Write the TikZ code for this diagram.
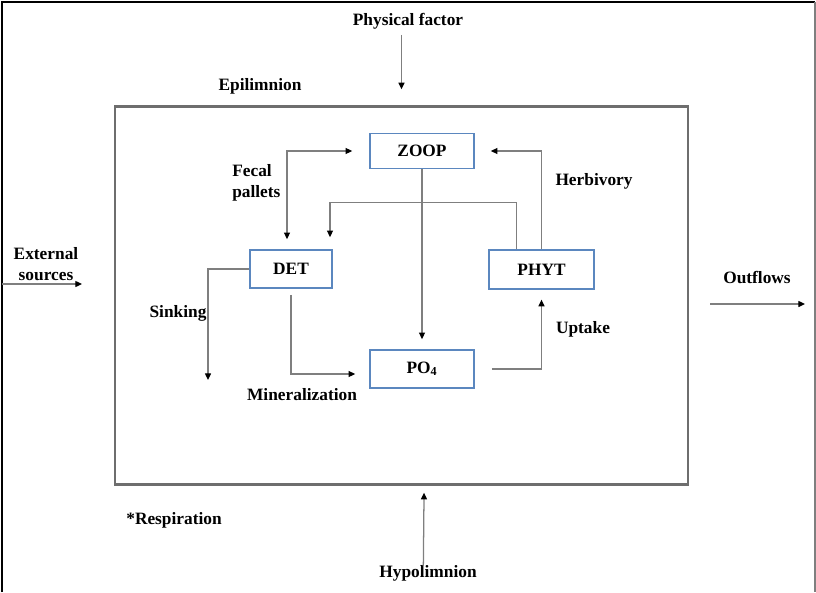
\documentclass[tikz,border=0pt]{standalone}
\usepackage{fontspec}
\setmainfont{Liberation Serif}
\usetikzlibrary{arrows.meta,positioning}

\definecolor{boxblue}{HTML}{5B87BF}
\definecolor{flowgray}{HTML}{7F7F7F}
\definecolor{lakegray}{HTML}{6E6E6E}

\tikzset{
	>={Triangle[length=5pt,width=4.5pt,color=black]},
	pool/.style={draw=boxblue, line width=1.2pt, minimum width=78pt, minimum height=28pt, font=\bfseries\fontsize{13}{15}\selectfont},
	flow/.style={draw=flowgray, line width=0.95pt, ->},
	lbl/.style={font=\bfseries\fontsize{13}{15.5}\selectfont, align=center, inner sep=0pt},
}

\begin{document}
\begin{tikzpicture}[x=0.75pt, y=-0.75pt]
	\useasboundingbox (0,0) rectangle (816,592);

	% frame and lake
	\draw[line width=1.5pt] (2,592) -- (2,2.5) -- (814.5,2.5);
	\draw[flowgray, line width=1.5pt] (814.5,2.5) -- (814.5,592);
	\node[draw=lakegray, line width=1.8pt, minimum width=429.75pt, minimum height=283.5pt] (lake) at (401.5,295.5) {};

	% pools
	\node[pool, minimum width=78pt, minimum height=26pt] (zoop) at (422,151) {ZOOP};
	\node[pool, minimum width=61.5pt, minimum height=28.5pt] (det) at (291,269) {DET};
	\node[pool, minimum width=79pt, minimum height=29pt] (phyt) at (541.5,269.5) {PHYT};
	\node[pool, minimum width=78pt, minimum height=28.5pt] (po4) at (422,369) {PO\textsubscript{4}};

	% labels
	\node[lbl] (phys) at (408,21) {Physical factor};
	\node[lbl] (epi) at (260,86) {Epilimnion};
	\node[lbl, align=left, anchor=west] (fecal) at (232,183) {Fecal\\pallets};
	\node[lbl] (herb) at (594,181) {Herbivory};
	\node[lbl] (sink) at (178,313) {Sinking};
	\node[lbl] (miner) at (302,395) {Mineralization};
	\node[lbl] (uptake) at (583,329) {Uptake};
	\node[lbl] (ext) at (46,264) {External\\sources};
	\node[lbl] (out) at (757,277) {Outflows};
	\node[lbl] (hypo) at (428,573) {Hypolimnion};
	\node[lbl] (resp) at (174,520) {*Respiration};

	% free ends
	\coordinate (physin) at (401.5,35);
	\coordinate (extin) at (2,284);
	\coordinate (extend) at (82,284);
	\coordinate (outin) at (710,304);
	\coordinate (outend) at (805,304);
	\coordinate (sinkend) at (208,380);

	% flows
	\draw[flow] (physin) -- ([yshift=12pt]lake.north);
	\draw[flow] (extin) -- (extend);
	\draw[flow] (outin) -- (outend);
	\draw[flow] ([xshift=-3.5pt,yshift=-1pt]hypo.north) -- ([xshift=16.9pt,yshift=-5.25pt]lake.south);

	\draw[flow, <->] ([xshift=-3pt,yshift=7.5pt]det.north) |- ([xshift=-12.75pt]zoop.west);
	\draw[flow] ([xshift=-19pt]phyt.north) -- ++(0,-47) -| ([xshift=29.25pt,yshift=9pt]det.north);
	\draw[flow] (phyt.north) |- ([xshift=12pt]zoop.east);
	\draw[flow] (zoop.south) -- ([yshift=7.5pt]po4.north);
	\draw[flow] (det.west) -| (sinkend);
	\draw[flow] ([yshift=-4.5pt]det.south) |- ([xshift=-10.5pt,yshift=-3.75pt]po4.west);
	\draw[flow] ([xshift=12.75pt]po4.east) -| ([yshift=-7.5pt]phyt.south);
\end{tikzpicture}
\end{document}
